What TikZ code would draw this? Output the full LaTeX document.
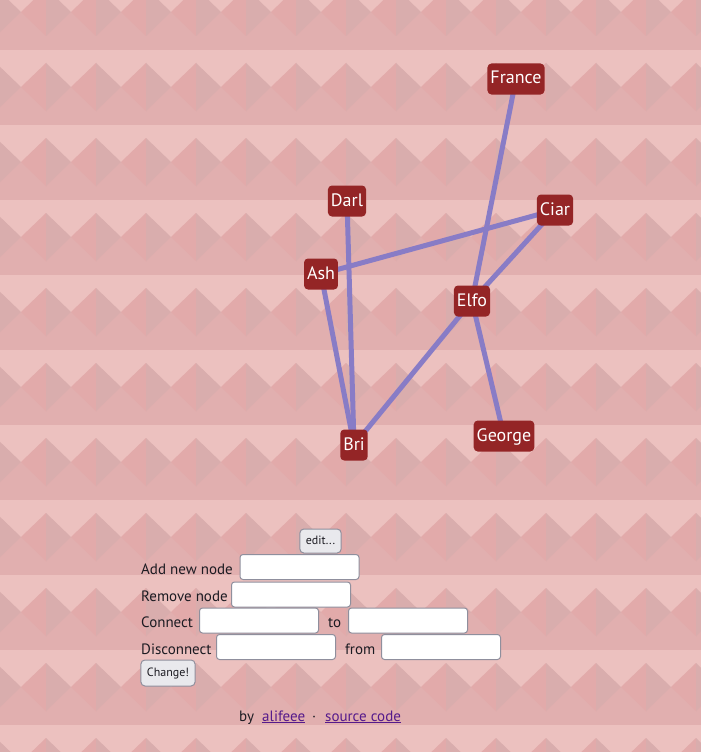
\documentclass[tikz,border=0pt]{standalone}
\usepackage{fontspec}
\setmainfont{PT Sans}
\usetikzlibrary{positioning,backgrounds}
\definecolor{bandlight}{RGB}{236,193,191}
\definecolor{basepink}{RGB}{225,175,175}
\definecolor{diamleft}{RGB}{226,170,170}
\definecolor{diamright}{RGB}{217,173,173}
\definecolor{edgeblue}{RGB}{136,124,198}
\definecolor{nodered}{RGB}{148,37,38}
\definecolor{btngray}{RGB}{233,233,237}
\definecolor{boxedge}{RGB}{143,143,157}
\definecolor{linkpurple}{RGB}{85,26,139}
\definecolor{inktext}{RGB}{28,27,34}
\tikzset{
    person/.style={fill=nodered, text=white, rounded corners=4pt, inner xsep=3pt, inner ysep=0pt,
        minimum height=31pt, text height=13pt, text depth=3pt, font=\fontsize{18}{18}\selectfont},
    link/.style={draw=edgeblue, line width=5pt},
    field/.style={draw=boxedge, fill=white, rounded corners=3pt, line width=1pt,
        minimum width=119pt, minimum height=25pt, inner sep=0pt},
    button/.style={draw=boxedge, fill=btngray, rounded corners=4pt, line width=1pt, inner xsep=6pt,
        inner ysep=0pt, text=inktext, text height=8pt, text depth=2pt, font=\fontsize{12}{12}\selectfont},
    formtext/.style={anchor=base west, inner sep=0pt, text=inktext, font=\fontsize{15}{15}\selectfont},
    weblink/.style={formtext, text=linkpurple}
}
\begin{document}
\begin{tikzpicture}[x=1pt,y=-1pt]
    \useasboundingbox (0,0) rectangle (701,752);
    \begin{scope}[on background layer]
        \clip (0,0) rectangle (701,752);
        \fill[basepink] (0,0) rectangle (701,752);
        \foreach \t in {-25,50,...,725} {
            \fill[bandlight] (0,\t) rectangle (701,\t+37);
            \foreach \c in {-4,46,...,746} {
                \fill[diamleft] (\c,\t+13) -- (\c-25,\t+37) -- (\c,\t+61) -- cycle;
                \fill[diamright] (\c,\t+13) -- (\c+25,\t+37) -- (\c,\t+61) -- cycle;
            }
        }
    \end{scope}

    \node[person] (france) at (516,79) {France};
    \node[person] (darl) at (347,201) {Darl};
    \node[person] (ciar) at (555,210) {Ciar};
    \node[person] (ash) at (321,274) {Ash};
    \node[person] (elfo) at (472,301) {Elfo};
    \node[person] (george) at (504,436) {George};
    \node[person] (bri) at (354,445) {Bri};

    \begin{scope}[on background layer]
        \draw[link] (france.center) -- (elfo.center);
        \draw[link] (darl.center) -- (bri.center);
        \draw[link] (ash.center) -- (ciar.center);
        \draw[link] (ash.center) -- (bri.center);
        \draw[link] (ciar.center) -- (elfo.center);
        \draw[link] (elfo.center) -- (bri.center);
        \draw[link] (elfo.center) -- (george.center);
    \end{scope}

    \node[button, minimum height=24pt] (edit) at (320.5,541) {edit...};
    \node[formtext] (addtext) at (141,574) {Add new node};
    \node[field] (addbox) at (299.5,567) {};
    \node[formtext] (removetext) at (141,601) {Remove node};
    \node[field] (removebox) at (291,594.5) {};
    \node[formtext] (connecttext) at (141,627) {Connect};
    \node[field] (connectbox) at (259,620.5) {};
    \node[formtext] (totext) at (328,627) {to};
    \node[field] (tobox) at (408,620.5) {};
    \node[formtext] (disconnecttext) at (141,654) {Disconnect};
    \node[field] (disconnectbox) at (276,647) {};
    \node[formtext] (fromtext) at (345,654) {from};
    \node[field] (frombox) at (441,647) {};
    \node[button, minimum height=26pt] (change) at (168,673) {Change!};

    \node[formtext] (bytext) at (239,721) {by};
    \node[weblink] (author) at (262,721) {\underline{alifeee}};
    \node[formtext] (dot) at (312,721) {\textperiodcentered};
    \node[weblink] (source) at (325,721) {\underline{source code}};
\end{tikzpicture}
\end{document}
